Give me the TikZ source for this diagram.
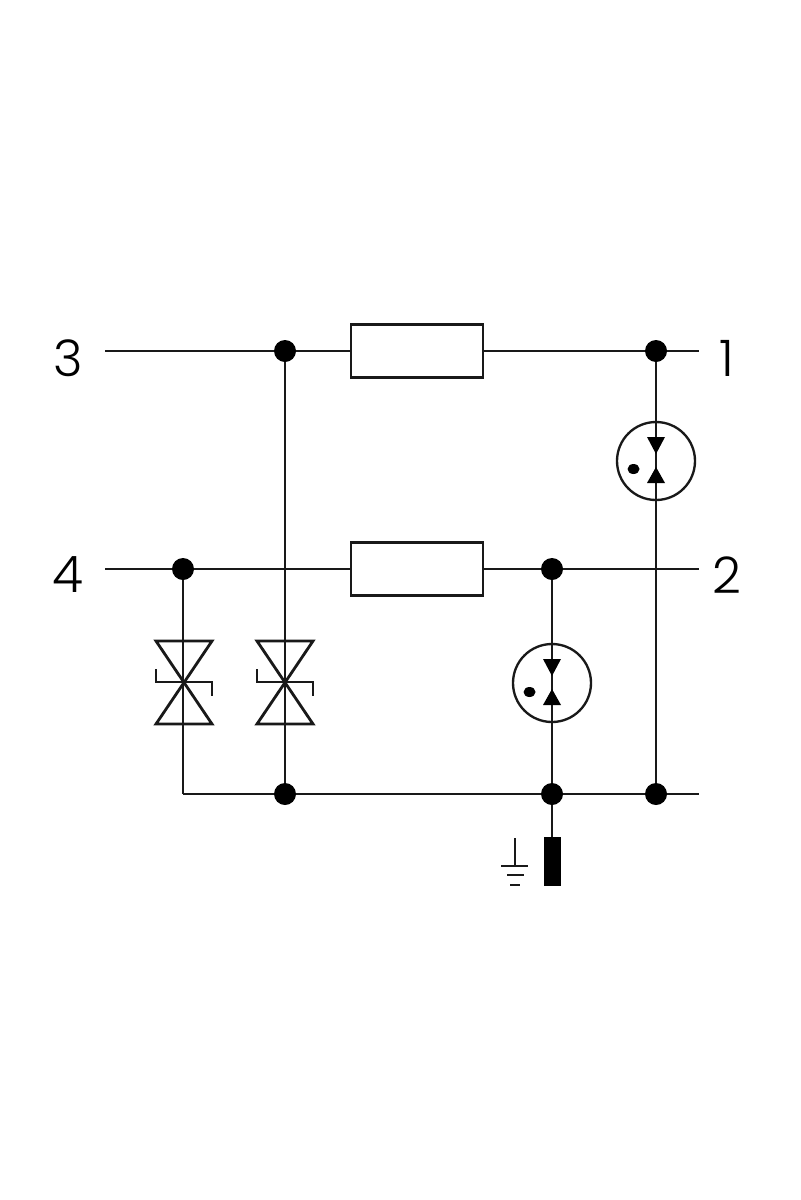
\documentclass[tikz,border=0pt]{standalone}
\usepackage{fontspec}
\setmainfont{Poppins Light}
\tikzset{
  wire/.style={line width=2.4pt, draw=black!90},
  thin wire/.style={line width=2pt, draw=black!90},
  junction/.style={circle, fill=black, inner sep=0pt, minimum size=0.66cm},
  resistor/.style={draw=black!90, line width=2pt, fill=white, inner sep=0pt, minimum width=3.96cm, minimum height=1.59cm},
  arrester/.style={circle, draw=black!90, line width=2pt, inner sep=0pt, minimum size=2.34cm},
  terminal/.style={font=\fontsize{43}{43}\selectfont, inner sep=0pt},
  earthbar/.style={fill=black, inner sep=0pt, minimum width=0.51cm, minimum height=1.47cm}
}
\begin{document}
\begin{tikzpicture}[x=0.03cm, y=-0.03cm]
\useasboundingbox (0,0) rectangle (800,1200);
% terminals
\node[terminal] (t3) at (68,358) {3};
\node[terminal] (t4) at (68,575) {4};
\node[terminal] (t1) at (727,358) {1};
\node[terminal] (t2) at (727,575) {2};
\coordinate (w3) at (105,351);
\coordinate (w4) at (105,569);
\coordinate (w1) at (699,351);
\coordinate (w2) at (699,569);
\coordinate (wb) at (699,794);
% junctions
\node[junction] (j31) at (285,351) {};
\node[junction] (j11) at (656,351) {};
\node[junction] (j41) at (183,569) {};
\node[junction] (j21) at (552,569) {};
\node[junction] (jb2) at (285,794) {};
\node[junction] (jb3) at (552,794) {};
\node[junction] (jb4) at (656,794) {};
\coordinate (jb1) at (183,794);
% resistors
\node[resistor] (r1) at (417,351) {};
\node[resistor] (r2) at (417,569) {};
% arresters
\node[arrester] (a1) at (656,461) {};
\node[arrester] (a2) at (552,683) {};
% earth
\node[earthbar] (pe) at (552,861.5) {};
\coordinate (g0) at (515,838);
\coordinate (g1) at (515,866);
% wires
\draw[wire] (w3) -- (j31) -- (r1) -- (j11) -- (w1);
\draw[wire] (w4) -- (j41) -- (r2) -- (j21) -- (w2);
\draw[wire] (jb1) -- (jb2) -- (jb3) -- (jb4) -- (wb);
\draw[wire] (j41) -- (jb1);
\draw[wire] (j31) -- (jb2);
\draw[wire] (j21) -- (jb3) -- (pe);
\draw[wire] (j11) -- (jb4);
\draw[thin wire] (g0) -- (g1);
% suppressor diodes
\foreach \x in {184,285} {
  \draw[wire, line join=miter] (\x-28,641) -- (\x+28,641) -- (\x-28,724) -- (\x+28,724) -- cycle;
  \draw[wire] (\x-28,669) -- (\x-28,682) -- (\x+28,682) -- (\x+28,696);
}
% arrester gaps
\foreach \c/\d in {a1/8, a2/9} {
  \fill (\c.center) ++(-9,-24) -- ++(18,0) -- ++(-9,17) -- cycle;
  \fill (\c.center) ++(-9,22) -- ++(18,0) -- ++(-9,-16) -- cycle;
  \fill (\c.center) ++(-22.5,\d) ellipse (6 and 5);
}
% earth symbol
\draw[wire] (501,866) -- (528,866);
\draw[wire] (507,875) -- (524,875);
\draw[wire] (510,885) -- (520,885);
\end{tikzpicture}
\end{document}
